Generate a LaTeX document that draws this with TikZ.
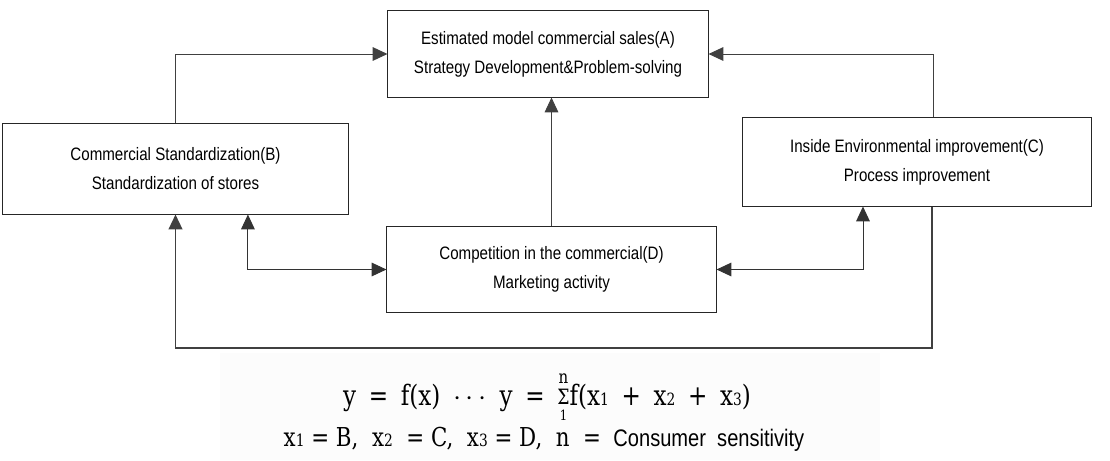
\documentclass[tikz,border=0pt]{standalone}
\usepackage{fontspec}
\setmainfont{Liberation Sans}[FakeStretch=0.84]
\newfontfamily\eqfont{DejaVu Serif}[FakeStretch=0.82]
\usepackage{tikz}
\usetikzlibrary{arrows.meta, positioning}

\newcommand{\lowdigit}[1]{{\fontsize{12}{12}\selectfont #1}}
\newcommand{\gap}{\hspace{0.45em}}
\newcommand{\sumstack}{\raisebox{-11pt}{\shortstack[c]{{\fontsize{13}{13}\selectfont n}\\[1pt]{\fontsize{15}{15}\selectfont Σ}\\[1pt]{\fontsize{10}{10}\selectfont 1}}}}

\begin{document}
\begin{tikzpicture}[
    x=0.025cm, y=-0.025cm,
    % Styles
    stage/.style={
        rectangle,
        draw=black!85,
        line width=0.7pt,
        align=center,
        inner sep=0pt,
        font=\fontsize{12.8}{20.6}\selectfont
    },
    arrow/.style={
        -{Triangle[length=0.37cm, width=0.34cm]},
        draw=black!75,
        line width=0.7pt
    },
    twoway/.style={
        {Triangle[length=0.37cm, width=0.34cm]}-{Triangle[length=0.37cm, width=0.34cm]},
        draw=black!80,
        line width=0.7pt
    },
    feedback/.style={
        arrow,
        line width=1.4pt
    },
    eqline/.style={
        anchor=base,
        inner sep=0pt,
        font=\eqfont\fontsize{20}{22}\selectfont
    }
]
\useasboundingbox (0,0) rectangle (1110,460);

% faint strip behind the formula
\fill[black!1] (220,353) rectangle (880,460);

% Stages
\node[stage, minimum width=8cm, minimum height=2.15cm] (sales) at (548,54)
    {Estimated model commercial sales(A)\\Strategy Development\&Problem-solving};
\node[stage, minimum width=8.625cm, minimum height=2.25cm] (stand) at (175.5,169)
    {Commercial Standardization(B)\\Standardization of stores};
\node[stage, minimum width=8.7cm, minimum height=2.2cm] (inside) at (917,162)
    {Inside Environmental improvement(C)\\Process improvement};
\node[stage, minimum width=8.225cm, minimum height=2.15cm] (compet) at (551.5,269.5)
    {Competition in the commercial(D)\\Marketing activity};

% Connections to A
\draw[arrow] (stand.north) |- (sales.west);
\draw[arrow] ([xshift=0.4cm]inside.north) |- (sales.east);
\draw[arrow] (compet.north) -- (compet.north |- sales.south);

% Two-way links with D
\draw[twoway] ([xshift=1.81cm]stand.south) |- (compet.west);
\draw[twoway] ([xshift=-1.35cm]inside.south) |- (compet.east);

% Feedback loop C -> B
\coordinate (loop) at (175.5,348);
\draw[feedback] ([xshift=0.375cm]inside.south) |- (loop) -- (stand.south);

% Formula
\node[eqline] (eqn) at (547,405)
    {y\gap=\gap f(x)\gap$\cdots$\gap y\gap=\gap\sumstack f(x\lowdigit{1}\gap+\gap x\lowdigit{2}\gap+\gap x\lowdigit{3})};
\node[eqline, font=\eqfont\fontsize{18.5}{20}\selectfont] (defs) at (544,446)
    {x\lowdigit{1} = B,\ \ x\lowdigit{2}\ \ =\ C,\ \ x\lowdigit{3} = D,\ \ n\ \ = {\rmfamily\fontsize{17}{20}\selectfont\ Consumer\ \ sensitivity}};

\end{tikzpicture}
\end{document}
